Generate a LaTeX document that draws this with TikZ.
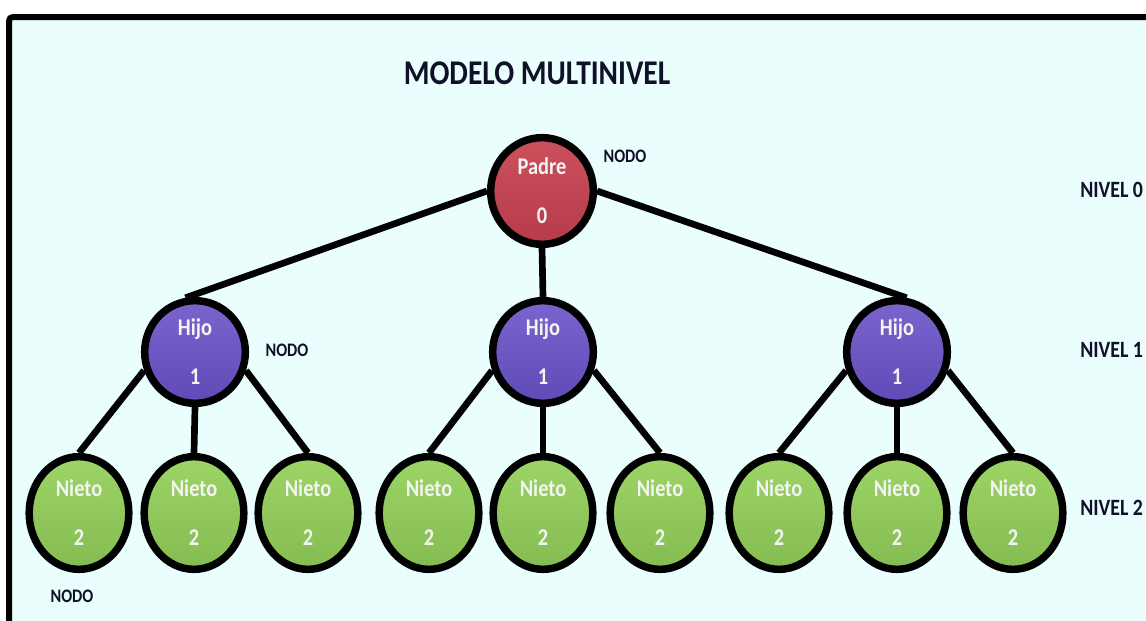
\documentclass[tikz,border=0pt]{standalone}
\usepackage{fontspec}
\newfontfamily\condfont[FakeStretch=0.85]{Carlito}
\usetikzlibrary{shapes.geometric}
\pgfdeclarelayer{bg}
\pgfdeclarelayer{edges}
\pgfsetlayers{bg,edges,main}

\definecolor{paper}{RGB}{233,254,253}
\definecolor{ink}{RGB}{16,16,40}
\definecolor{nodetext}{RGB}{244,244,244}
\definecolor{padreTop}{RGB}{204,80,92}
\definecolor{padreBot}{RGB}{182,60,74}
\definecolor{hijoTop}{RGB}{122,100,206}
\definecolor{hijoBot}{RGB}{96,74,182}
\definecolor{nietoTop}{RGB}{156,212,102}
\definecolor{nietoBot}{RGB}{132,188,82}

\begin{document}
\begin{tikzpicture}[x=0.75pt,y=-0.75pt,
  bubble/.style={ellipse, draw=black, line width=5.6pt, inner sep=0pt,
    text=nodetext, align=center,
    font=\condfont\bfseries\fontsize{18}{36.75}\selectfont},
  padre/.style={bubble, minimum width=77pt, minimum height=80pt,
    top color=padreTop, bottom color=padreBot},
  hijo/.style={bubble, minimum width=75.5pt, minimum height=77pt,
    top color=hijoTop, bottom color=hijoBot},
  nieto/.style={bubble, minimum width=74.75pt, minimum height=84.5pt,
    top color=nietoTop, bottom color=nietoBot},
  link/.style={line width=5pt, draw=black},
  tag/.style={font=\condfont\bfseries\fontsize{14.3}{16}\selectfont,
    text=ink, inner sep=0pt},
  level/.style={font=\condfont\bfseries\fontsize{17.5}{20}\selectfont,
    text=ink, inner sep=0pt, anchor=west},
  heading/.style={font=\condfont\bfseries\fontsize{26}{28}\selectfont,
    text=ink, inner sep=0pt}]

\useasboundingbox (0,0) rectangle (1146,621);
\clip (0,0) rectangle (1146,621);

% framed panel
\begin{pgfonlayer}{bg}
  \draw[line width=4.5pt, fill=paper, rounded corners=3pt]
    (9,17) rectangle (1180,660);
\end{pgfonlayer}

% title
\node[heading] (title) at (537,73) {MODELO MULTINIVEL};

% level 0
\node[padre] (p) at (542,191) {Padre\\0};

% level 1
\node[hijo] (h1) at (195,352) {Hijo\\1};
\node[hijo] (h2) at (543,352) {Hijo\\1};
\node[hijo] (h3) at (897,352) {Hijo\\1};

% level 2
\foreach \i/\x in {1/79,2/194,3/308,4/429,5/543,6/660,7/779,8/897,9/1013}
  \node[nieto] (n\i) at (\x,513) {Nieto\\2};

% side labels
\node[tag] (tp) at (625,156) {NODO};
\node[tag] (th) at (287,350) {NODO};
\node[tag] (tn) at (72,596) {NODO};
\node[level] (lv0) at (1080,190) {NIVEL 0};
\node[level] (lv1) at (1080,350) {NIVEL 1};
\node[level] (lv2) at (1080,508) {NIVEL 2};

% connectors
\begin{pgfonlayer}{edges}
  \draw[link] (p.west) -- (h1.100);
  \draw[link] (p.south) -- (h2.north);
  \draw[link] (p.east) -- (h3.80);
  \foreach \h/\a/\b/\c in {h1/n1/n2/n3, h2/n4/n5/n6, h3/n7/n8/n9}{
    \draw[link] (\h.200) -- (\a.north);
    \draw[link] (\h.south) -- (\b.north);
    \draw[link] (\h.-20) -- (\c.north);
  }
\end{pgfonlayer}
\end{tikzpicture}
\end{document}
